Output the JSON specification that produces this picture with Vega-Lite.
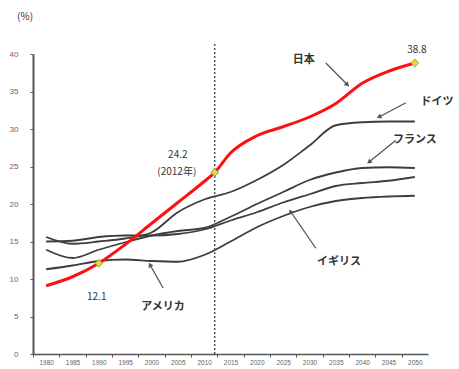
{
  "$schema": "https://vega.github.io/schema/vega-lite/v6.json",
  "width": 395,
  "height": 300,
  "autosize": {"type": "none"},
  "padding": {"left": 33, "top": 54, "right": 31, "bottom": 15},
  "background": "white",
  "config": {
    "view": {"stroke": null},
    "font": "Noto Sans CJK JP",
    "axisX": {
      "values": [1980, 1985, 1990, 1995, 2000, 2005, 2010, 2015, 2020, 2025, 2030, 2035, 2040, 2045, 2050],
      "labelOverlap": false, "tickCount": 15
    },
    "axisY": {
      "values": [0, 5, 10, 15, 20, 25, 30, 35, 40],
      "labelOverlap": false
    }
  },
  "datasets": {
    "series": [
      {"country": "日本", "year": 1980, "value": 9.1},
      {"country": "日本", "year": 1985, "value": 10.3},
      {"country": "日本", "year": 1990, "value": 12.1},
      {"country": "日本", "year": 1995, "value": 14.6},
      {"country": "日本", "year": 2000, "value": 17.4},
      {"country": "日本", "year": 2005, "value": 20.2},
      {"country": "日本", "year": 2010, "value": 23.0},
      {"country": "日本", "year": 2012, "value": 24.2},
      {"country": "日本", "year": 2015, "value": 26.8},
      {"country": "日本", "year": 2020, "value": 29.1},
      {"country": "日本", "year": 2025, "value": 30.3},
      {"country": "日本", "year": 2030, "value": 31.6},
      {"country": "日本", "year": 2035, "value": 33.4},
      {"country": "日本", "year": 2040, "value": 36.1},
      {"country": "日本", "year": 2045, "value": 37.7},
      {"country": "日本", "year": 2050, "value": 38.8},
      {"country": "ドイツ", "year": 1980, "value": 15.6},
      {"country": "ドイツ", "year": 1985, "value": 14.7},
      {"country": "ドイツ", "year": 1990, "value": 15.0},
      {"country": "ドイツ", "year": 1995, "value": 15.4},
      {"country": "ドイツ", "year": 2000, "value": 16.2},
      {"country": "ドイツ", "year": 2005, "value": 18.9},
      {"country": "ドイツ", "year": 2010, "value": 20.6},
      {"country": "ドイツ", "year": 2015, "value": 21.6},
      {"country": "ドイツ", "year": 2020, "value": 23.2},
      {"country": "ドイツ", "year": 2025, "value": 25.2},
      {"country": "ドイツ", "year": 2030, "value": 27.8},
      {"country": "ドイツ", "year": 2035, "value": 30.5},
      {"country": "ドイツ", "year": 2040, "value": 30.9},
      {"country": "ドイツ", "year": 2045, "value": 31.0},
      {"country": "ドイツ", "year": 2050, "value": 31.0},
      {"country": "フランス", "year": 1980, "value": 13.9},
      {"country": "フランス", "year": 1985, "value": 12.8},
      {"country": "フランス", "year": 1990, "value": 13.9},
      {"country": "フランス", "year": 1995, "value": 14.9},
      {"country": "フランス", "year": 2000, "value": 15.8},
      {"country": "フランス", "year": 2005, "value": 16.4},
      {"country": "フランス", "year": 2010, "value": 16.8},
      {"country": "フランス", "year": 2015, "value": 18.3},
      {"country": "フランス", "year": 2020, "value": 20.0},
      {"country": "フランス", "year": 2025, "value": 21.6},
      {"country": "フランス", "year": 2030, "value": 23.2},
      {"country": "フランス", "year": 2035, "value": 24.2},
      {"country": "フランス", "year": 2040, "value": 24.8},
      {"country": "フランス", "year": 2045, "value": 24.9},
      {"country": "フランス", "year": 2050, "value": 24.8},
      {"country": "イギリス", "year": 1980, "value": 15.0},
      {"country": "イギリス", "year": 1985, "value": 15.1},
      {"country": "イギリス", "year": 1990, "value": 15.6},
      {"country": "イギリス", "year": 1995, "value": 15.8},
      {"country": "イギリス", "year": 2000, "value": 15.8},
      {"country": "イギリス", "year": 2005, "value": 16.0},
      {"country": "イギリス", "year": 2010, "value": 16.6},
      {"country": "イギリス", "year": 2015, "value": 17.8},
      {"country": "イギリス", "year": 2020, "value": 18.9},
      {"country": "イギリス", "year": 2025, "value": 20.2},
      {"country": "イギリス", "year": 2030, "value": 21.3},
      {"country": "イギリス", "year": 2035, "value": 22.4},
      {"country": "イギリス", "year": 2040, "value": 22.8},
      {"country": "イギリス", "year": 2045, "value": 23.1},
      {"country": "イギリス", "year": 2050, "value": 23.6},
      {"country": "アメリカ", "year": 1980, "value": 11.3},
      {"country": "アメリカ", "year": 1985, "value": 11.8},
      {"country": "アメリカ", "year": 1990, "value": 12.4},
      {"country": "アメリカ", "year": 1995, "value": 12.6},
      {"country": "アメリカ", "year": 2000, "value": 12.4},
      {"country": "アメリカ", "year": 2005, "value": 12.3},
      {"country": "アメリカ", "year": 2010, "value": 13.2},
      {"country": "アメリカ", "year": 2015, "value": 15.0},
      {"country": "アメリカ", "year": 2020, "value": 16.9},
      {"country": "アメリカ", "year": 2025, "value": 18.4},
      {"country": "アメリカ", "year": 2030, "value": 19.6},
      {"country": "アメリカ", "year": 2035, "value": 20.4},
      {"country": "アメリカ", "year": 2040, "value": 20.8},
      {"country": "アメリカ", "year": 2045, "value": 21.0},
      {"country": "アメリカ", "year": 2050, "value": 21.1}
    ],
    "grid": [{"value": 10}, {"value": 20}, {"value": 30}],
    "markers": [
      {"year": 1990, "value": 12.1},
      {"year": 2012, "value": 24.2},
      {"year": 2050, "value": 38.8}
    ],
    "arrows": [
      {"label": "日本", "year0": 2033.1, "value0": 38.8, "year": 2037.2, "value": 35.9, "dir": 135},
      {"label": "ドイツ", "year0": 2048.3, "value0": 33.5, "year": 2043.2, "value": 31.6, "dir": 243},
      {"label": "フランス", "year0": 2046.4, "value0": 28.5, "year": 2041.3, "value": 25.6, "dir": 231},
      {"label": "イギリス", "year0": 2031.2, "value0": 14.1, "year": 2026.4, "value": 19.0, "dir": 326},
      {"label": "アメリカ", "year0": 2002.2, "value0": 8.8, "year": 1999.7, "value": 11.9, "dir": 330}
    ],
    "names": [
      {"text": "日本", "year": 2028.9, "value": 39.2, "align": "center"},
      {"text": "ドイツ", "year": 2054.2, "value": 33.6, "align": "center"},
      {"text": "フランス", "year": 2050.0, "value": 28.5, "align": "left"},
      {"text": "イギリス", "year": 2035.6, "value": 12.3, "align": "center"},
      {"text": "アメリカ", "year": 2002.2, "value": 6.3, "align": "center"}
    ],
    "nums": [
      {"text": "12.1", "year": 1989.6, "value": 7.6},
      {"text": "24.2", "year": 2005.0, "value": 26.5},
      {"text": "(2012年)", "year": 2004.8, "value": 24.3},
      {"text": "38.8", "year": 2050.4, "value": 40.5},
      {"text": "(%)", "year": 1976.0, "value": 44.9}
    ]
  },
  "encoding": {
    "x": {
      "field": "year", "type": "quantitative",
      "scale": {"domain": [1977.5, 2052.5], "nice": false, "zero": false},
      "axis": {
        "title": null, "grid": false,
        "values": [1980, 1985, 1990, 1995, 2000, 2005, 2010, 2015, 2020, 2025, 2030, 2035, 2040, 2045, 2050],
        "format": "d", "labelFontSize": 6.5, "labelColor": "#666", "labelFont": "Liberation Sans",
        "labelOverlap": false,
        "tickOffset": -13.17, "labelOffset": 13.17, "tickSize": 3, "tickColor": "#555", "tickWidth": 1,
        "domainColor": "#555", "domainWidth": 1.5, "labelPadding": 2, "labelFlush": false
      }
    },
    "y": {
      "field": "value", "type": "quantitative",
      "scale": {"domain": [0, 40], "nice": false},
      "axis": {
        "title": null, "grid": false,
        "values": [0, 5, 10, 15, 20, 25, 30, 35, 40],
        "labelFontSize": 8, "labelColor": "#666", "labelFont": "Liberation Sans",
        "labelOverlap": false,
        "tickSize": 3, "tickColor": "#555", "domainColor": "#555", "domainWidth": 2,
        "labelPadding": 12
      }
    }
  },
  "layer": [
    {
      "data": {"name": "grid"},
      "mark": {"type": "rule", "color": "#d9d9d9", "strokeWidth": 1},
      "encoding": {
        "x": {"datum": 1977.5, "type": "quantitative"},
        "x2": {"datum": 2050}
      }
    },
    {
      "data": {"name": "series"},
      "transform": [{"filter": "datum.country !== '日本'"}],
      "mark": {"type": "line", "color": "#3d3d3d", "strokeWidth": 1.8, "interpolate": "monotone"},
      "encoding": {
        "detail": {"field": "country"}
      }
    },
    {
      "data": {"name": "series"},
      "transform": [{"filter": "datum.country === '日本'"}],
      "mark": {"type": "line", "color": "#ff1010", "strokeWidth": 3, "interpolate": "monotone"}
    },
    {
      "data": {"name": "markers"},
      "mark": {"type": "rule", "color": "#4a5568", "strokeWidth": 1.5, "strokeDash": [2, 2]},
      "transform": [{"filter": "datum.year === 2012"}],
      "encoding": {
        "y": {"datum": 0, "type": "quantitative"},
        "y2": {"datum": 41.6}
      }
    },
    {
      "data": {"name": "markers"},
      "mark": {"type": "point", "shape": "diamond", "filled": true, "fill": "#e8df10", "stroke": "#8896a8", "strokeWidth": 1, "size": 60, "opacity": 1}
    },
    {
      "data": {"name": "arrows"},
      "mark": {"type": "rule", "color": "#555", "strokeWidth": 1.3},
      "encoding": {
        "x2": {"field": "year0"},
        "y2": {"field": "value0"}
      }
    },
    {
      "data": {"name": "arrows"},
      "mark": {"type": "point", "shape": "triangle-up", "filled": true, "color": "#555", "size": 30, "opacity": 1},
      "encoding": {
        "angle": {"field": "dir", "type": "quantitative", "scale": null}
      }
    },
    {
      "data": {"name": "names"},
      "mark": {"type": "text", "fontSize": 11, "fontWeight": "bold", "color": "#333", "baseline": "middle"},
      "encoding": {
        "text": {"field": "text"},
        "align": {"field": "align", "type": "nominal", "scale": null}
      }
    },
    {
      "data": {"name": "nums"},
      "mark": {"type": "text", "fontSize": 10, "color": "#333", "baseline": "middle", "align": "center"},
      "encoding": {
        "text": {"field": "text"}
      }
    }
  ]
}
